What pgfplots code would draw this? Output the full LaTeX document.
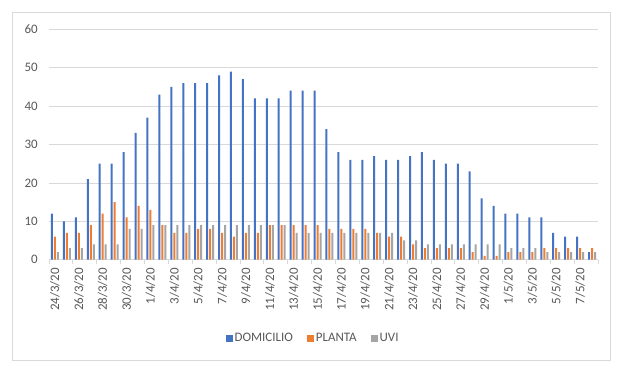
\documentclass[border=0pt]{standalone}
\usepackage{pgfplots}
\pgfplotsset{compat=1.18}
\usepackage{pgfplotstable}
\usepackage{fontspec}
\setmainfont{Carlito}
\definecolor{cblue}{HTML}{4472C4}
\definecolor{corange}{HTML}{ED7D31}
\definecolor{cgray}{HTML}{A5A5A5}
\definecolor{ctext}{HTML}{595959}
\definecolor{cgrid}{HTML}{D9D9D9}
\pgfplotstableread{
x d p u
0 12 6 2
1 10 7 3
2 11 7 3
3 21 9 4
4 25 12 4
5 25 15 4
6 28 11 8
7 33 14 8
8 37 13 9
9 43 9 9
10 45 7 9
11 46 7 9
12 46 8 9
13 46 8 9
14 48 7 9
15 49 6 9
16 47 7 9
17 42 7 9
18 42 9 9
19 42 9 9
20 44 9 7
21 44 9 7
22 44 9 7
23 34 8 7
24 28 8 7
25 26 8 7
26 26 8 7
27 27 7 7
28 26 6 7
29 26 6 5
30 27 4 5
31 28 3 4
32 26 3 4
33 25 3 4
34 25 3 4
35 23 2 4
36 16 1 4
37 14 1 4
38 12 2 3
39 12 2 3
40 11 2 3
41 11 3 2
42 7 3 2
43 6 3 2
44 6 3 2
45 2 3 2
}\data
\begin{document}
\begin{tikzpicture}
\path[use as bounding box] (0bp,0bp) rectangle (625bp,365bp);
\fill[white] (0bp,0bp) rectangle (625bp,365bp);
\draw[cgrid, line width=1bp] (12.5bp,4bp) rectangle (610.5bp,352.5bp);
\begin{axis}[
  at={(49bp,105.3bp)}, anchor=south west,
  scale only axis, width=549bp, height=230.4bp,
  ybar,
  xmin=-0.5, xmax=45.5, ymin=0, ymax=60,
  ytick={0,10,...,60},
  xtick={0,2,...,44},
  xticklabels={24/3/20,26/3/20,28/3/20,30/3/20,1/4/20,3/4/20,5/4/20,7/4/20,9/4/20,11/4/20,13/4/20,15/4/20,17/4/20,19/4/20,21/4/20,23/4/20,25/4/20,27/4/20,29/4/20,1/5/20,3/5/20,5/5/20,7/5/20},
  minor xtick={-0.5,1.5,...,45.5},
  axis x line=bottom, axis y line=left,
  y axis line style={draw=none},
  x axis line style={cgrid, line width=0.75bp, -},
  major tick length=0pt, minor tick length=4bp, tick align=outside,
  tick style={cgrid, line width=0.75bp},
  ymajorgrids, grid style={cgrid, line width=0.75bp},
  /pgf/number format/assume math mode=true,
  ticklabel style={font=\fontsize{13}{15}\selectfont, text=ctext},
  yticklabel style={anchor=east, inner sep=0pt, xshift=-11bp},
  xticklabel style={rotate=90, anchor=east, inner sep=0pt, xshift=0bp},
  xticklabel shift=8bp,
  legend columns=-1,
  legend style={at={(0.481,-0.34)}, anchor=center, draw=none, fill=none,
    font=\fontsize{13}{15}\selectfont, text=ctext,
    /tikz/every even column/.append style={column sep=12bp}},
  legend image code/.code={\fill[#1] (0bp,-3.5bp) rectangle (7bp,3.5bp);},
]
\addplot[fill=cblue, draw=none, bar width=2bp, bar shift=-3bp] table[x=x,y=d]{\data};
\addplot[fill=corange, draw=none, bar width=2bp, bar shift=0bp] table[x=x,y=p]{\data};
\addplot[fill=cgray, draw=none, bar width=2bp, bar shift=3bp] table[x=x,y=u]{\data};
\legend{DOMICILIO,PLANTA,UVI}
\end{axis}
\end{tikzpicture}
\end{document}
